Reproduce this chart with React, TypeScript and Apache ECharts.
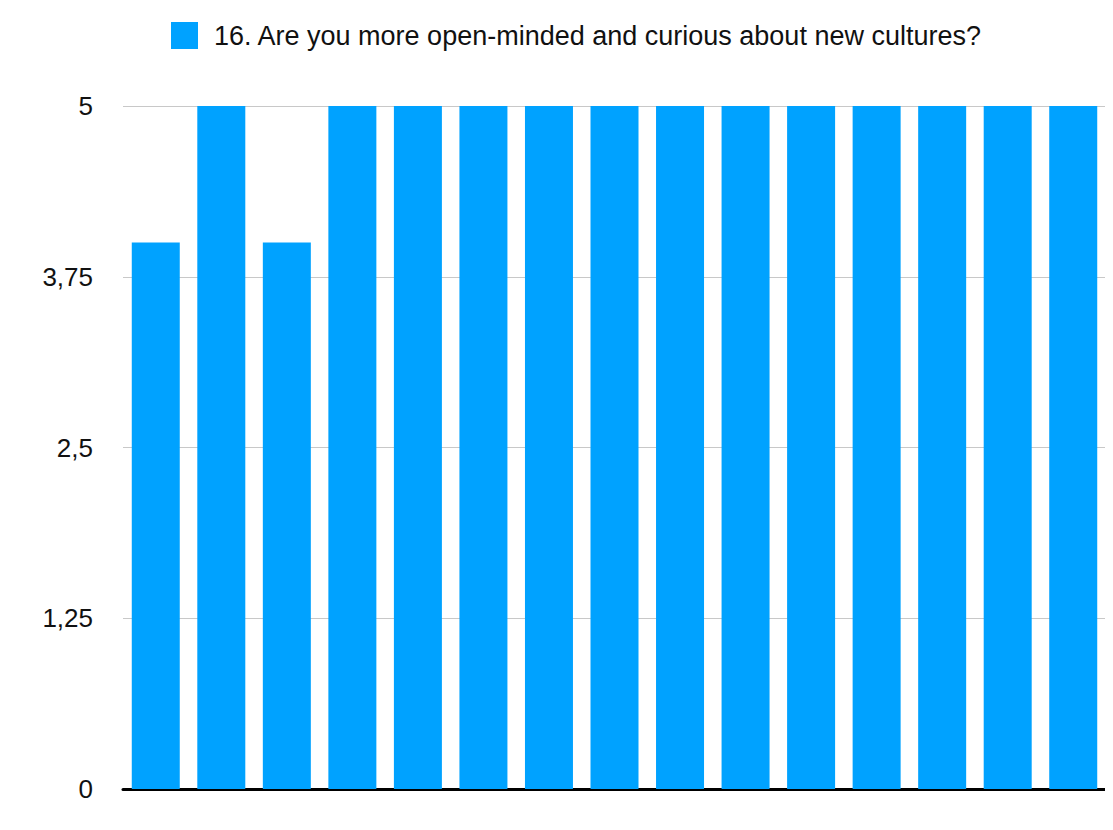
import React, { useEffect, useRef } from "react";
import * as echarts from "echarts";

const categories = ["1", "2", "3", "4", "5", "6", "7", "8", "9", "10", "11", "12", "13", "14", "15"];
const values = [4, 5, 4, 5, 5, 5, 5, 5, 5, 5, 5, 5, 5, 5, 5];
const seriesName = "16. Are you more open-minded and curious about new cultures?";

export default function App() {
  const ref = useRef<HTMLDivElement>(null);
  useEffect(() => {
    const chart = echarts.init(ref.current!, null, { renderer: "svg" });
    chart.setOption({
      animation: false,
      textStyle: { fontFamily: "Liberation Sans, Arial, sans-serif" },
      legend: {
        left: 171,
        top: 22,
        padding: 0,
        itemWidth: 27,
        itemHeight: 27,
        icon: "rect",
        textStyle: { fontSize: 27, color: "#111", padding: [0, 0, 0, 11] },
        data: [seriesName],
      },
      grid: { left: 123, right: 7, top: 106, bottom: 41 },
      xAxis: {
        type: "category",
        data: categories,
        axisLine: { lineStyle: { color: "#000", width: 3 } },
        axisTick: { show: false },
        axisLabel: { show: false },
      },
      yAxis: {
        type: "value",
        min: 0,
        max: 5,
        interval: 1.25,
        axisLine: { show: false },
        axisTick: { show: false },
        splitLine: { lineStyle: { color: "#c8c8c8", width: 1 } },
        axisLabel: {
          fontSize: 26,
          color: "#111",
          margin: 30,
          formatter: (v: number) => String(v).replace(".", ","),
        },
      },
      series: [
        {
          name: seriesName,
          type: "bar",
          data: values,
          barWidth: 48,
          itemStyle: { color: "#00A2FF" },
        },
      ],
    });
    return () => chart.dispose();
  }, []);
  return <div ref={ref} style={{ width: 1113, height: 830, margin: -8 }} />;
}
